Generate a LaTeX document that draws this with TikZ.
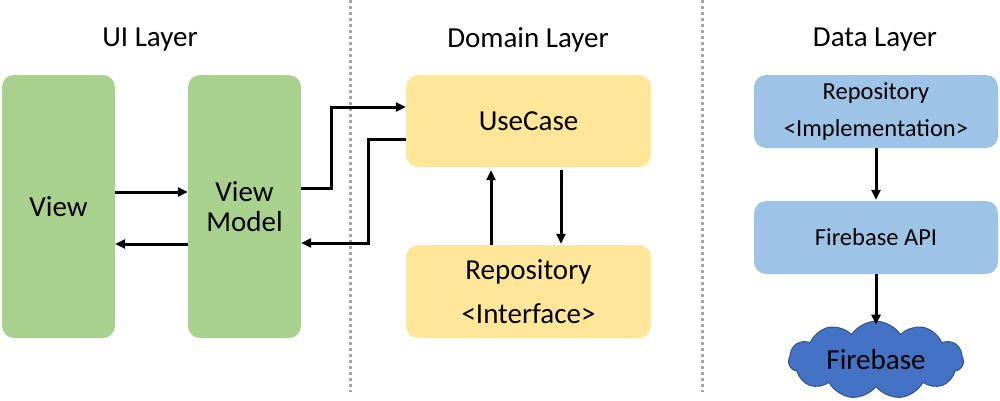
\documentclass[tikz,border=0pt]{standalone}
\usepackage{fontspec}
\setmainfont{Carlito}
\usetikzlibrary{arrows.meta}
\usetikzlibrary{shapes.symbols}

\definecolor{uigreen}{HTML}{A9D18E}
\definecolor{domyellow}{HTML}{FFE699}
\definecolor{datablue}{HTML}{9DC3E6}
\definecolor{cloudblue}{HTML}{4472C4}
\definecolor{cloudedge}{HTML}{2F528F}

\begin{document}
\begin{tikzpicture}[x=1pt, y=-1pt,
  box/.style={rounded corners=12pt, inner sep=0pt, align=center},
  big/.style={font=\fontsize{29}{32}\selectfont},
  small/.style={font=\fontsize{24.5}{37}\selectfont},
  arr/.style={-{Triangle[length=10pt,width=9pt]}, line width=3pt}]
  \useasboundingbox (0,0) rectangle (1000,400);

  % headers
  \node[big] at (150, 40) (uihead) {UI Layer};
  \node[big] at (528, 40) (domhead) {Domain Layer};
  \node[big] at (875, 40) (datahead) {Data Layer};

  % layer separators
  \draw[gray!70, line width=3pt, dash pattern=on 3pt off 3pt] (350, 0) -- (350, 392);
  \draw[gray!70, line width=3pt, dash pattern=on 3pt off 3pt] (702, 0) -- (702, 392);

  % UI layer
  \node[box, big, fill=uigreen, minimum width=113, minimum height=263] at (58.5, 206.5) (view) {View};
  \node[box, big, fill=uigreen, minimum width=113, minimum height=263] at (244.5, 206.5) (vm) {View\\[-2pt]Model};

  % domain layer
  \node[box, big, fill=domyellow, minimum width=245, minimum height=92] at (528.5, 121) (usecase) {UseCase};
  \node[box, fill=domyellow, minimum width=245, minimum height=93, font=\fontsize{29}{44}\selectfont] at (528.5, 291.5) (repoif) {Repository\\\textless Interface\textgreater};

  % data layer
  \node[box, small, fill=datablue, minimum width=244, minimum height=73] at (876, 111.5) (repoimpl) {Repository\\\textless Implementation\textgreater};
  \node[box, small, fill=datablue, minimum width=244, minimum height=73] at (876, 237.5) (api) {Firebase API};
  \node[cloud, cloud puffs=11, cloud puff arc=115, aspect=2.4, draw=cloudedge, line width=1pt, fill=cloudblue, big,
        minimum width=175, minimum height=75, inner sep=0pt] at (876, 360) (firebase) {Firebase};

  \draw[arr] ([yshift=14.5pt]view.east) -- ([yshift=14.5pt]vm.west);
  \draw[arr] ([yshift=-37.5pt]vm.west) -- ([yshift=-37.5pt]view.east);

  \draw[arr] ([yshift=18.5pt]vm.east) -| (331, 107) -- ([yshift=14pt]usecase.west);
  \draw[arr] ([yshift=-18pt]usecase.west) -| (368, 243) -- ([yshift=-36.5pt]vm.east);

  \draw[arr, shorten >=3pt] ([xshift=-37.5pt]repoif.north) -- ([xshift=-37.5pt]usecase.south);
  \draw[arr, shorten <=3pt, shorten >=1pt] ([xshift=32.5pt]usecase.south) -- ([xshift=32.5pt]repoif.north);

  \draw[arr, shorten >=1pt] (repoimpl) -- (api);
  \draw[arr, shorten >=-4pt] (api) -- (firebase);

\end{tikzpicture}
\end{document}
